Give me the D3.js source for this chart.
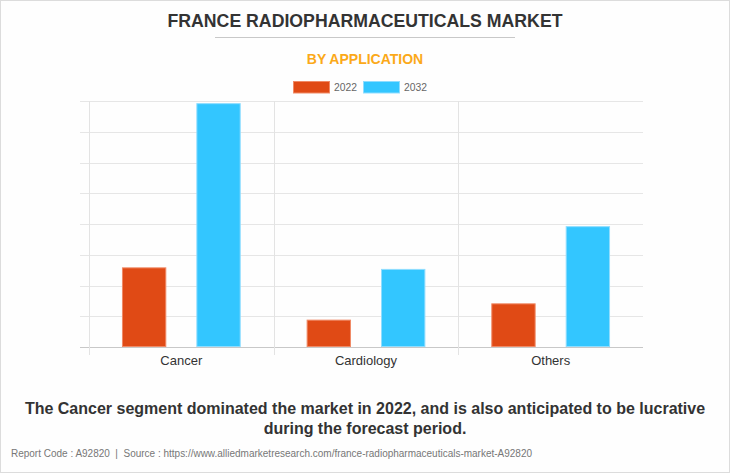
<!DOCTYPE html>
<html><head><meta charset="utf-8">
<script src="https://cdn.jsdelivr.net/npm/d3@7"></script>
<style>
html,body{margin:0;padding:0;background:#fff;}
svg{display:block;font-family:"Liberation Sans",Arial,sans-serif;}
</style></head>
<body>
<svg id="c" width="730" height="473"></svg>
<script>
const categories = ["Cancer", "Cardiology", "Others"];
const seriesNames = ["2022", "2032"];
const values2022 = [259, 89, 142];
const values2032 = [793, 254, 393];
const yTicks = [0, 100, 200, 300, 400, 500, 600, 700, 800];
const colors = ["#E04A15", "#33C6FF"];
const strokes = ["#F08A66", "#8FDDFF"];

(function(){
const svg = d3.select("#c");
svg.append("rect").attr("x",0.5).attr("y",0.5).attr("width",729).attr("height",472)
  .attr("fill","#fefefe").attr("stroke","#dcdcdc");

// Titles
svg.append("text").attr("x",365).attr("y",27).attr("text-anchor","middle")
  .attr("font-size",17.7).attr("font-weight","bold").attr("fill","#333")
  .text("FRANCE RADIOPHARMACEUTICALS MARKET");
svg.append("line").attr("x1",215).attr("x2",515).attr("y1",37.5).attr("y2",37.5)
  .attr("stroke","#c8c8c8").attr("stroke-width",1);
svg.append("text").attr("x",365).attr("y",63.5).attr("text-anchor","middle")
  .attr("font-size",14).attr("font-weight","bold").attr("fill","#FBA919")
  .text("BY APPLICATION");

// Legend
const legendX = [293.5, 363.5];
seriesNames.forEach((s,i)=>{
  svg.append("rect").attr("x",legendX[i]).attr("y",81.5).attr("width",36).attr("height",11.5)
    .attr("fill",colors[i]).attr("stroke",strokes[i]).attr("stroke-width",1);
  svg.append("text").attr("x",legendX[i]+40.5).attr("y",91).attr("font-size",11.5)
    .attr("textLength",23).attr("lengthAdjust","spacingAndGlyphs")
    .attr("fill","#666").text(s);
});

// Plot
const pLeft = 89, pRight = 643, pTop = 101, pBottom = 347;
const x = d3.scaleBand().domain(categories).range([pLeft, pRight]).paddingInner(0).paddingOuter(0);
const xs = d3.scaleBand().domain(seriesNames).range([0, x.bandwidth()]).paddingInner(0.404).paddingOuter(0.443);
const y = d3.scaleLinear().domain([0, 800]).range([pBottom, pTop]);

svg.append("g").selectAll("line").data(yTicks).join("line")
  .attr("x1",80).attr("x2",pRight)
  .attr("y1",d=>Math.round(y(d))+0.5).attr("y2",d=>Math.round(y(d))+0.5)
  .attr("stroke",d=> d===0 ? "#c8c8c8" : "#e6e6e6").attr("stroke-width",1);
svg.append("g").selectAll("line").data(categories).join("line")
  .attr("x1",d=>Math.round(x(d))+0.5).attr("x2",d=>Math.round(x(d))+0.5)
  .attr("y1",pTop).attr("y2",355)
  .attr("stroke","#e3e3e3").attr("stroke-width",1);

const data = categories.map((c,i)=>({cat:c, vals:[values2022[i], values2032[i]]}));
const g = svg.append("g");
data.forEach(d=>{
  d.vals.forEach((v,j)=>{
    g.append("rect")
      .attr("x", x(d.cat)+xs(seriesNames[j])+0.5)
      .attr("y", y(v)+0.5)
      .attr("width", xs.bandwidth()-1)
      .attr("height", y(0)-y(v)-1)
      .attr("fill", colors[j]).attr("stroke", strokes[j]).attr("stroke-width",1);
  });
});

svg.append("g").selectAll("text").data(categories).join("text")
  .attr("x",d=>x(d)+x.bandwidth()/2).attr("y",365).attr("text-anchor","middle")
  .attr("font-size",13).attr("fill","#333").text(d=>d);

svg.append("text").attr("x",365).attr("y",414).attr("text-anchor","middle")
  .attr("font-size",16).attr("font-weight","bold").attr("fill","#333")
  .text("The Cancer segment dominated the market in 2022, and is also anticipated to be lucrative");
svg.append("text").attr("x",365).attr("y",434).attr("text-anchor","middle")
  .attr("font-size",16).attr("font-weight","bold").attr("fill","#333")
  .text("during the forecast period.");
svg.append("text").attr("x",11).attr("y",457).attr("font-size",10).attr("fill","#777")
  .attr("textLength",521).attr("lengthAdjust","spacingAndGlyphs")
  .style("white-space","pre")
  .text("Report Code : A92820  |  Source : https://www.alliedmarketresearch.com/france-radiopharmaceuticals-market-A92820");
})();
</script>
</body></html>
